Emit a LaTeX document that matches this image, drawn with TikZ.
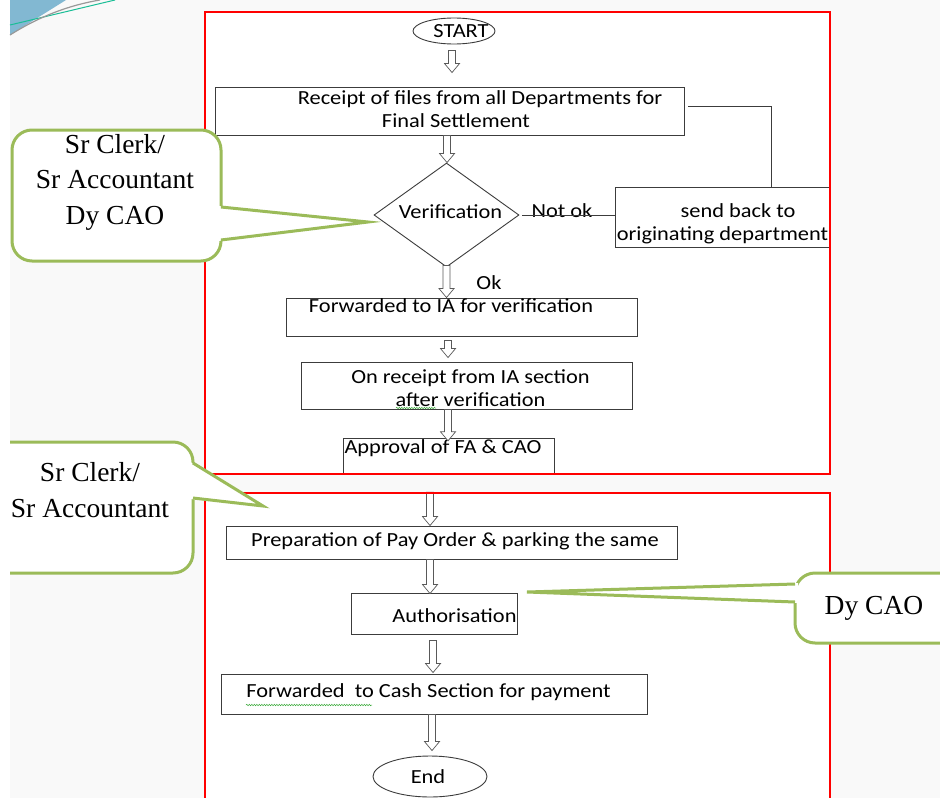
\documentclass[tikz,border=0pt]{standalone}
\usepackage{fontspec}
\setmainfont{Carlito}
\newfontfamily\boxfont[FakeStretch=1.12]{Carlito}
\newfontfamily\calloutfont{Liberation Serif}
\usetikzlibrary{shapes.geometric,decorations.pathmorphing,calc}
\definecolor{bggrey}{RGB}{249,249,249}
\definecolor{cgreen}{RGB}{155,187,89}
\definecolor{boxline}{RGB}{60,60,60}
\definecolor{decoblue}{RGB}{130,184,210}
\definecolor{decoteal}{RGB}{26,190,150}
\definecolor{squig}{RGB}{60,170,60}
\begin{document}
\begin{tikzpicture}[x=1pt,y=-1pt,
  frame/.style={draw=red, line width=2.2pt},
  fbox/.style={draw=boxline, line width=0.9pt, rectangle, inner sep=0pt},
  ftext/.style={font=\boxfont\fontsize{20}{23}\selectfont, inner sep=0pt, align=center, text=black},
  term/.style={ellipse, draw=boxline, line width=0.9pt, inner sep=0pt},
  callout/.style={draw=cgreen, line width=3pt, fill=white},
  ctext/.style={font=\calloutfont\fontsize{27.5}{35.5}\selectfont, align=center, inner sep=0pt},
  hollow/.style={draw=black!65, line width=0.7pt, fill=white,
    to path={let \p1=(\tikztostart), \p2=(\tikztotarget) in
      (\x1-3.5pt,\y1) -- (\x1+3.5pt,\y1) -- (\x1+3.5pt,\y2+9pt) -- (\x1+7.5pt,\y2+9pt)
      -- (\x1,\y2) -- (\x1-7.5pt,\y2+9pt) -- (\x1-3.5pt,\y2+9pt) -- cycle}},
  squiggle/.style={draw=squig, line width=0.5pt, decorate, decoration={snake, amplitude=0.7pt, segment length=2.5pt}},
  thinline/.style={draw=boxline, line width=0.9pt},
]
\useasboundingbox (0,0) rectangle (940,798);
\clip (0,0) rectangle (940,798);
\fill[bggrey] (0,0) rectangle (940,798);

% frames (fill)
\node[inner sep=0pt, minimum width=625pt, minimum height=462pt, fill=white] (frameA) at (517.5,243) {};
\node[inner sep=0pt, minimum width=625pt, minimum height=337pt, fill=white] (frameB) at (517.5,661.5) {};

% flow nodes
\node[term, minimum width=82pt, minimum height=26pt,
  label={[ftext, xshift=7pt]center:START}] (start) at (454,31) {};
\node[fbox, minimum width=469pt, minimum height=48pt,
  label={[ftext, yshift=1.5pt]center:\hspace*{61pt}Receipt of files from all Departments for\\\hspace*{13pt}Final Settlement}] (receipt) at (449.5,111) {};
\node[diamond, draw=boxline, line width=0.9pt, inner sep=0pt, minimum width=145pt, minimum height=104pt,
  label={[ftext, xshift=4pt, yshift=3pt]center:Verification}] (verif) at (446.5,215) {};
\node[fbox, minimum width=215pt, minimum height=60pt,
  label={[ftext, yshift=-6.5pt]center:\hspace*{31pt}send back to\\originating department}] (sendback) at (722.5,217) {};
\node[ftext, anchor=center] (notok) at (562,211) {Not ok};
\node[ftext, anchor=center] (ok) at (489,283) {Ok};
\node[fbox, minimum width=351pt, minimum height=38pt,
  label={[ftext, xshift=-10.5pt, yshift=11pt]center:Forwarded to IA for verification}] (fwdia) at (461.5,317) {};
\node[fbox, minimum width=331pt, minimum height=47pt,
  label={[ftext, xshift=4pt, yshift=-3pt]center:On receipt from IA section\\after verification}] (onrec) at (466.5,385.5) {};
\node[inner sep=0pt, minimum width=210pt, minimum height=35pt,
  label={[ftext, xshift=-6pt, yshift=8.5pt]center:Approval of FA \& CAO}] (approval) at (449,456.5) {};
\draw[thinline] (approval.south west) -- (approval.north west) -- (approval.north east) -- (approval.south east);
\node[fbox, minimum width=451pt, minimum height=33pt,
  label={[ftext, xshift=3.5pt, yshift=1.5pt]center:Preparation of Pay Order \& parking the same}] (prep) at (451.5,542.5) {};
\node[fbox, minimum width=166pt, minimum height=41pt,
  label={[ftext, xshift=20.5pt, yshift=-2.5pt]center:Authorisation}] (auth) at (434,613.5) {};
\node[fbox, minimum width=426pt, minimum height=40pt,
  label={[ftext, xshift=-5.5pt, yshift=2pt]center:Forwarded\ \ to Cash Section for payment}] (cash) at (434,694) {};
\node[term, minimum width=114pt, minimum height=41pt,
  label={[ftext, xshift=-2pt]center:End}] (end) at (430,776.5) {};

% squiggles (spell-check marks)
\draw[squiggle] (396,408) -- (436,408);
\draw[squiggle] (246,705) -- (372,705);

% hollow arrows
\draw[hollow] ([xshift=-2pt,yshift=-6pt]start.south) to ([yshift=14pt]receipt.north);
\draw[hollow] ([xshift=-2.5pt]receipt.south) to (verif.north);
\draw[hollow] ([yshift=2pt]verif.south) to (fwdia.north);
\draw[hollow] ([xshift=-13.5pt,yshift=-4pt]fwdia.south) to ([yshift=4pt]onrec.north);
\draw[hollow] ([xshift=-18.5pt]onrec.south) to ([yshift=-2pt]approval.north);
\draw[hollow] ([xshift=-19pt,yshift=-18pt]approval.south) to (prep.north);
\draw[hollow] ([xshift=-21.5pt]prep.south) to ([yshift=-1pt]auth.north);
\draw[hollow] ([xshift=-1pt,yshift=-6pt]auth.south) to ([yshift=1pt]cash.north);
\draw[hollow] ([xshift=-2pt]cash.south) to ([yshift=5pt]end.north);

% plain connectors
\draw[thinline] ([xshift=3pt]verif.east) -- (verif.east -| sendback.west);
\draw[thinline] ([xshift=48.5pt]sendback.north) |- ([xshift=4pt,yshift=5pt]receipt.east);

% frames (stroke)
\draw[frame] (frameA.north west) rectangle (frameA.south east);
\draw[frame] (frameB.north west) rectangle (frameB.south east);

% callout 1
\draw[callout, rounded corners=20pt] (12,130) rectangle (221,261);
\fill[white] (218,206) -- (368,222) -- (218,241) -- cycle;
\draw[cgreen, line width=3pt, line join=miter] (221,207) -- (368,222) -- (221,240);
\node[ctext] (c1) at (115,182) {Sr Clerk/\\Sr Accountant\\Dy CAO};

% callout 2
\draw[callout, rounded corners=20pt] (-40,442) rectangle (193,573);
\fill[white] (190,462) -- (263,506) -- (190,499) -- cycle;
\draw[cgreen, line width=3pt, line join=miter] (193,463) -- (263,506) -- (193,498);
\node[ctext] (c2) at (90,490) {Sr Clerk/\\Sr Accountant};

% callout 3
\draw[callout, rounded corners=20pt] (795,573) rectangle (990,643);
\fill[white] (798,583) -- (527,592) -- (798,603) -- cycle;
\draw[cgreen, line width=3pt, line join=miter] (795,584) -- (527,592) -- (795,602);
\node[ctext] (c3) at (874,608) {Dy CAO};

% slide edge and corner decoration
\fill[white] (0,0) rectangle (10,798);
\fill[decoblue] (10,0) -- (66,0) -- (10,35) -- cycle;
\draw[decoteal, line width=1pt] (10,25) -- (115,0);
\draw[black!40, line width=1.2pt] (10,35) .. controls (40,16) and (70,5) .. (100,0);
\end{tikzpicture}
\end{document}
